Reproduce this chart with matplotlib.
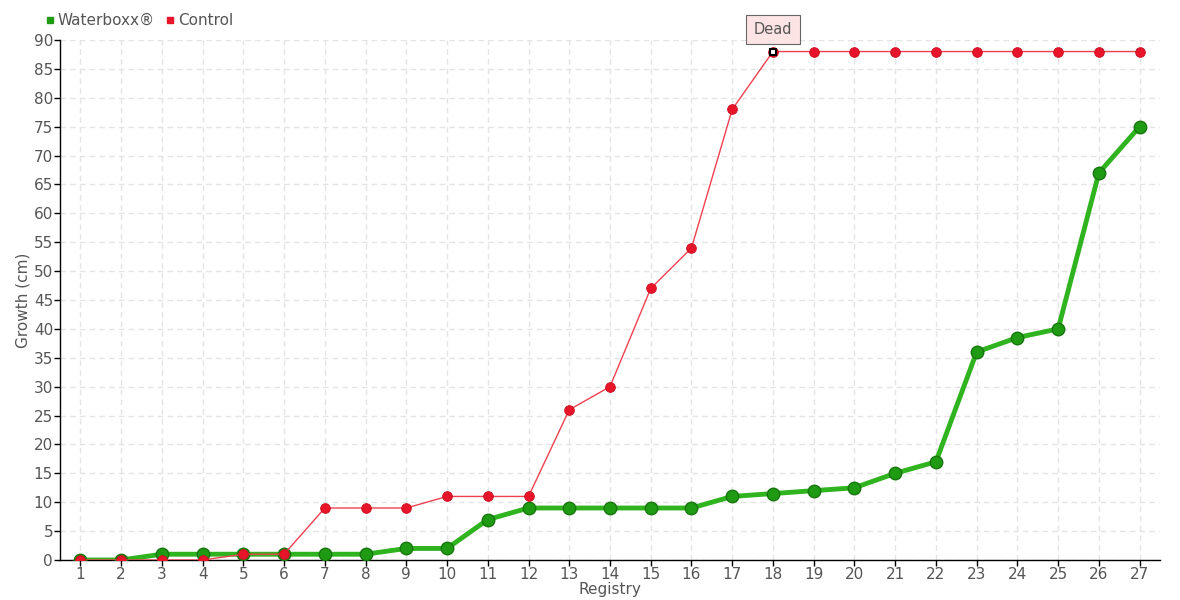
import matplotlib
matplotlib.use("Agg")
import matplotlib.pyplot as plt
from matplotlib.lines import Line2D

registry = list(range(1, 28))
waterboxx = [0, 0, 1, 1, 1, 1, 1, 1, 2, 2, 7, 9, 9, 9, 9, 9, 11, 11.5, 12, 12.5,
             15, 17, 36, 38.5, 40, 67, 75]
control = [0, 0, 0, 0, 1, 1, 9, 9, 9, 11, 11, 11, 26, 30, 47, 54, 78, 88, 88, 88,
           88, 88, 88, 88, 88, 88, 88]
dead_at = 18
y_ticks = list(range(0, 95, 5))

GREEN = "#1f9a13"
RED = "#e8142a"
TXT = "#555555"

plt.rcParams["font.family"] = ["DejaVu Sans"]

fig = plt.figure(figsize=(11.8, 6.0), dpi=100)
ax = fig.add_axes([60 / 1180, 40 / 600, 1100 / 1180, 520 / 600])

ax.plot(registry, waterboxx, color="#2fb31f", lw=3.5, zorder=3,
        marker="o", ms=9, mfc=GREEN, mec="#17760e", mew=1)
ax.plot(registry, control, color="#f04050", lw=1, zorder=4,
        marker="o", ms=7, mfc=RED, mec="#c8101f", mew=0.6)

# "Dead" marker and label
i = registry.index(dead_at)
ax.plot([dead_at], [control[i]], marker="s", ms=5, mfc="white", mec="black",
        mew=1.5, zorder=6)
ax.annotate("Dead", xy=(dead_at, control[i]), xytext=(0, 16),
            textcoords="offset points", ha="center", va="center",
            fontsize=10.5, color=TXT, zorder=7,
            bbox=dict(boxstyle="square,pad=0.5", fc="#fde4e4", ec="#666666", lw=0.8))

ax.set_xlim(0.5, 27.5)
ax.set_ylim(0, 90)
ax.set_xticks(registry)
ax.set_yticks(y_ticks)
ax.tick_params(axis="both", labelsize=11, colors=TXT, length=4, width=1,
               pad=1)
ax.tick_params(axis="both", color="black")
for s in ("top", "right"):
    ax.spines[s].set_visible(False)
for s in ("left", "bottom"):
    ax.spines[s].set_color("black")
    ax.spines[s].set_linewidth(1)
ax.grid(True, color="#e4e4e4", ls=(0, (4, 3)), lw=1)
ax.set_axisbelow(True)

ax.set_xlabel("Registry", fontsize=11, color=TXT)
ax.set_ylabel("Growth (cm)", fontsize=11, color=TXT)
ax.xaxis.set_label_coords(0.5, -0.042)
ax.yaxis.set_label_coords(-0.027, 0.5)

handles = [Line2D([], [], ls="", marker="s", ms=5, mfc=GREEN, mec=GREEN),
           Line2D([], [], ls="", marker="s", ms=5, mfc=RED, mec=RED)]
fig.legend(handles, ["Waterboxx®", "Control"], loc="upper left",
           bbox_to_anchor=(44 / 1180, 1 - 13 / 600), ncol=2, frameon=False,
           fontsize=11, labelcolor=TXT, handletextpad=0.1, columnspacing=0.6,
           handlelength=0.8, borderaxespad=0, borderpad=0)

fig.savefig("out.png", dpi=100)
